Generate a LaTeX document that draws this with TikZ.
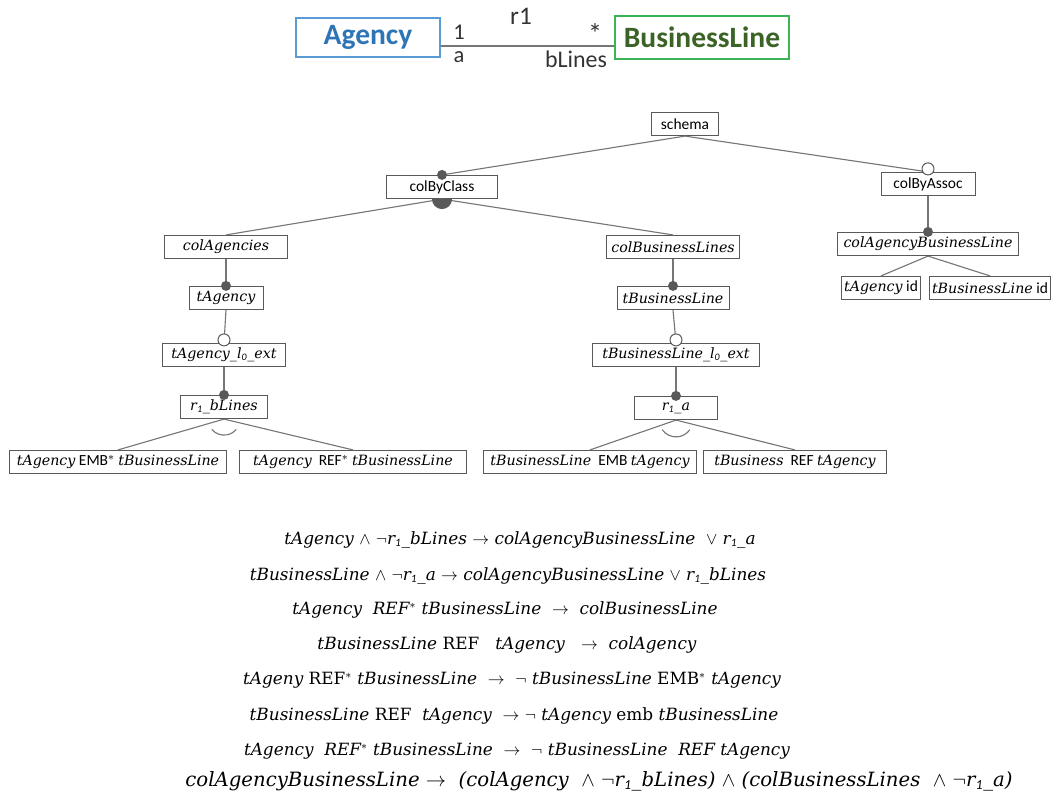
\documentclass[tikz,border=0pt]{standalone}
\usepackage{amsmath,amssymb}
\usepackage{fontspec}
\setmainfont{Carlito}
\newfontfamily\cambr{DejaVu Serif}
\usepackage{xcolor}
\usetikzlibrary{calc}
\definecolor{edgegray}{HTML}{767676}
\definecolor{boxgray}{HTML}{595959}
\definecolor{agblue}{HTML}{5B9BD5}
\definecolor{agtext}{HTML}{2E75B6}
\definecolor{blgreen}{HTML}{3CB455}
\definecolor{bltext}{HTML}{3B6325}
\newcommand{\vn}[1]{{\cambr\itshape\fontsize{10.1}{11}\selectfont #1}}
\newcommand{\rsub}{r$_{\mathit 1}$\_}
\tikzset{fb/.style={draw=boxgray,line width=0.7pt,fill=white,inner sep=1.5pt,minimum height=0.58cm,font=\fontsize{11}{12}\selectfont},
  edge/.style={draw=edgegray,line width=0.8pt},
  mand/.style={fill=boxgray},
  opt/.style={draw=boxgray,line width=0.7pt,fill=white},
  eqn/.style={font=\cambr\itshape\fontsize{12}{14}\selectfont},
  umltxt/.style={text=black!80,inner sep=0.5pt,font=\fontsize{16}{18}\selectfont}}

\begin{document}
\begin{tikzpicture}[x=0.025cm,y=-0.025cm]
\useasboundingbox (0,0) rectangle (1051,793);
% class diagram
\node[draw=agblue,line width=0.9pt,minimum width=3.6cm,minimum height=0.98cm,text=agtext,font=\fontsize{21}{24}\selectfont\bfseries] (ag) at (368,37.5) {Agency};
\node[draw=blgreen,line width=0.9pt,minimum width=4.35cm,minimum height=1.08cm,text=bltext,font=\fontsize{21}{24}\selectfont\bfseries] (bl) at (702,37.5) {BusinessLine};
\draw[edge] ($(ag.east)+(0,8.5)$) -- ($(bl.west)+(0,8.5)$);
\node[umltxt] (m1) at (459,32) {1};
\node[umltxt] (ra) at (459,57) {a};
\node[umltxt,font=\fontsize{18}{20}\selectfont] (rn) at (521,16) {r1};
\node[umltxt,font=\fontsize{20}{22}\selectfont] (ms) at (595,34) {*};
\node[umltxt,font=\fontsize{17}{19}\selectfont] (rb) at (576,59) {bLines};
% feature tree
\node[fb,minimum width=1.68cm] (sc) at (685,124) {schema};
\node[fb,minimum width=2.78cm] (cb) at (442,187) {colByClass};
\node[fb,minimum width=2.35cm] (ca) at (928,184) {colByAssoc};
\node[fb,minimum width=3.08cm] (cag) at (226,247) {\vn{colAgencies}};
\node[fb,minimum width=3.33cm] (cbl) at (673,247) {\vn{colBusinessLines}};
\node[fb,minimum width=4.5cm] (cabl) at (928,244) {\vn{colAgencyBusinessLine}};
\node[fb,minimum width=1.98cm] (tai) at (881,288) {\vn{tAgency} id};
\node[fb,minimum width=2.98cm] (tbi) at (990,288) {\vn{tBusinessLine} id};
\node[fb,minimum width=1.85cm] (ta) at (226,298) {\vn{tAgency}};
\node[fb,minimum width=3.08cm] (tae) at (224,355) {\vn{tAgency\_l$_{\mathit 0}$\_ext}};
\node[fb,minimum width=2.15cm] (rbl) at (224,407) {\vn{\rsub bLines}};
\node[fb,minimum width=5.43cm] (emb1) at (118,462) {\vn{tAgency} EMB$^{*}$ \vn{tBusinessLine}};
\node[fb,minimum width=5.65cm] (ref1) at (353,462) {\vn{tAgency}\ \ REF$^{*}$ \vn{tBusinessLine}};
\node[fb,minimum width=2.8cm] (tb) at (673,298) {\vn{tBusinessLine}};
\node[fb,minimum width=4.18cm] (tbe) at (676,355) {\vn{tBusinessLine\_l$_{\mathit 0}$\_ext}};
\node[fb,minimum width=2.08cm] (rra) at (676,408) {\vn{\rsub a}};
\node[fb,minimum width=5.33cm] (emb2) at (590,462) {\vn{tBusinessLine}\ \ EMB \vn{tAgency}};
\node[fb,minimum width=4.55cm] (ref2) at (795,462) {\vn{tBusiness}\ \ REF \vn{tAgency}};
% connectors
\draw[edge] (sc.south) -- (cb.north);
\draw[edge] (sc.south) -- (ca.north);
\draw[edge] (cb.south) -- (cag.north);
\draw[edge] (cb.south) -- (cbl.north);
\draw[edge] (ca.south) -- (cabl.north);
\draw[edge] (cabl.south) -- (tai.north);
\draw[edge] (cabl.south) -- (tbi.north);
\draw[edge] (cag.south) -- (ta.north);
\draw[edge] (ta.south) -- (tae.north);
\draw[edge] (tae.south) -- (rbl.north);
\draw[edge] (rbl.south) -- (emb1.north);
\draw[edge] (rbl.south) -- (ref1.north);
\draw[edge] (cbl.south) -- (tb.north);
\draw[edge] (tb.south) -- (tbe.north);
\draw[edge] (tbe.south) -- (rra.north);
\draw[edge] (rra.south) -- (emb2.north);
\draw[edge] (rra.south) -- (ref2.north);
% group marks
\fill[boxgray] ($(cb.south)+(-0.25cm,0)$) arc[start angle=180,end angle=360,radius=0.25cm] -- cycle;
\draw[edge] (rbl.south) ++(220:0.4cm) arc[start angle=220,end angle=320,radius=0.4cm];
\draw[edge] (rra.south) ++(215:0.42cm) arc[start angle=215,end angle=325,radius=0.42cm];
% mandatory / optional marks
\foreach \n in {cb,cabl,ta,rbl,tb,rra}{\fill[mand] (\n.north) circle (0.125cm);}
\foreach \n in {ca,tae,tbe}{\draw[opt] ($(\n.north)+(0,-3)$) circle (0.15cm);}
% constraints
\node[eqn] (e1) at (520,540) {tAgency $\wedge$ $\neg$\rsub bLines $\rightarrow$ colAgencyBusinessLine\ \ $\vee$ \rsub a};
\node[eqn] (e2) at (508,576) {tBusinessLine $\wedge$ $\neg$\rsub a $\rightarrow$ colAgencyBusinessLine $\vee$ \rsub bLines};
\node[eqn] (e3) at (505,610) {tAgency\ \ REF$^{*}$ tBusinessLine\ \ $\rightarrow$\ \ colBusinessLine};
\node[eqn] (e4) at (507,645) {tBusinessLine {\upshape REF}\ \ \ tAgency\ \ \ $\rightarrow$\ \ colAgency};
\node[eqn] (e5) at (512,680) {tAgeny {\upshape REF$^{*}$} tBusinessLine\ \ $\rightarrow$\ \ $\neg$ tBusinessLine {\upshape EMB$^{*}$} tAgency};
\node[eqn] (e6) at (514,716) {tBusinessLine {\upshape REF}\ \ tAgency\ \ $\rightarrow$\ $\neg$ tAgency {\upshape emb} tBusinessLine};
\node[eqn] (e7) at (517,751) {tAgency\ \ REF$^{*}$ tBusinessLine\ \ $\rightarrow$\ \ $\neg$ tBusinessLine\ \ REF tAgency};
\node[eqn,font=\cambr\itshape\fontsize{14}{16}\selectfont] (e8) at (599,781) {colAgencyBusinessLine $\rightarrow$\ \ (colAgency\ \ $\wedge$ $\neg$\rsub bLines) $\wedge$ (colBusinessLines\ \ $\wedge$ $\neg$\rsub a)};
\end{tikzpicture}
\end{document}
